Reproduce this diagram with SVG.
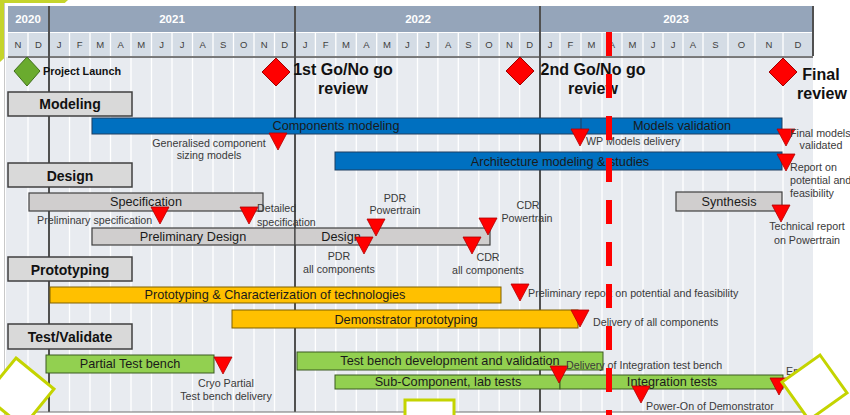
<svg xmlns="http://www.w3.org/2000/svg" xmlns:xlink="http://www.w3.org/1999/xlink" width="850" height="415" viewBox="0 0 850 415">
<defs>
<style>
text{font-family:"Liberation Sans",Arial,sans-serif;}
.yr{fill:#fff;font-weight:bold;font-size:11.5px;text-anchor:middle;}
.mo{fill:#404040;font-size:9.5px;text-anchor:middle;}
.sec rect{fill:#D9D9D9;stroke:#3F3F3F;stroke-width:1.5;}
.sec text{font-weight:bold;font-size:14px;fill:#111;text-anchor:middle;}
.blue{fill:#0070C0;stroke:#1F3F60;stroke-width:1;}
.gray{fill:#D0CECE;stroke:#404040;stroke-width:1.2;}
.yel{fill:#FFC000;stroke:#7F6000;stroke-width:1;}
.grn{fill:#92D050;stroke:#3A5A20;stroke-width:1;}
.bt{font-size:12.7px;fill:#1A1A1A;text-anchor:middle;}
.lb{font-size:10.7px;fill:#3A3A3A;}
.c{text-anchor:middle;}
.big{font-size:16px;font-weight:bold;fill:#111;text-anchor:middle;}
.deco{fill:#fff;stroke:#C4D400;stroke-width:3;}
</style>
<path id="tri" d="M-9,0 L9,0 L0,17 Z" fill="#FF0000" stroke="#B00000" stroke-width="0.8"/>
</defs>

<!-- page background and decor -->
<rect x="0" y="0" width="850" height="415" fill="#fff"/>
<polygon points="0,0 68,0 0,62" fill="#C5D42B"/>
<rect x="4" y="3" width="846" height="412" fill="#fff"/>
<line x1="4.5" y1="3" x2="4.5" y2="415" stroke="#C8C8C8" stroke-width="1"/>

<!-- chart body -->
<g id="grid">
<rect x="6" y="57" width="807" height="355" fill="#E8EBF0"/>
<path d="M28,57V412M69.5,57V412M90,57V412M110.5,57V412M131,57V412M151.5,57V412M172,57V412M192.5,57V412M213,57V412M233.5,57V412M254,57V412M274.5,57V412M315.4,57V412M335.8,57V412M356.3,57V412M376.7,57V412M397.1,57V412M417.5,57V412M437.9,57V412M458.3,57V412M478.8,57V412M499.2,57V412M519.6,57V412M560,57V412M581,57V412M602,57V412M622,57V412M643,57V412M663,57V412M683,57V412M703,57V412M728,57V412M755,57V412M783,57V412" stroke="#FFFFFF" stroke-width="1.3" fill="none"/>
</g>

<!-- header -->
<g id="header">
<rect x="8" y="6" width="805" height="26" fill="#95A5BA"/>
<rect x="8" y="33" width="805" height="23" fill="#D4DCE5"/>
<path d="M28,33V56M69.5,33V56M90,33V56M110.5,33V56M131,33V56M151.5,33V56M172,33V56M192.5,33V56M213,33V56M233.5,33V56M254,33V56M274.5,33V56M315.4,33V56M335.8,33V56M356.3,33V56M376.7,33V56M397.1,33V56M417.5,33V56M437.9,33V56M458.3,33V56M478.8,33V56M499.2,33V56M519.6,33V56M560,33V56M581,33V56M602,33V56M622,33V56M643,33V56M663,33V56M683,33V56M703,33V56M728,33V56M755,33V56M783,33V56" stroke="#FFFFFF" stroke-width="1.3" fill="none"/>
<text class="yr" x="28" y="23">2020</text>
<text class="yr" x="172" y="23">2021</text>
<text class="yr" x="418" y="23">2022</text>
<text class="yr" x="676" y="23">2023</text>
<text class="mo" x="18" y="48">N</text><text class="mo" x="38.5" y="48">D</text>
<text class="mo" x="59.2" y="48">J</text><text class="mo" x="79.7" y="48">F</text><text class="mo" x="100.2" y="48">M</text><text class="mo" x="120.7" y="48">A</text><text class="mo" x="141.2" y="48">M</text><text class="mo" x="161.7" y="48">J</text><text class="mo" x="182.2" y="48">J</text><text class="mo" x="202.7" y="48">A</text><text class="mo" x="223.2" y="48">S</text><text class="mo" x="243.7" y="48">O</text><text class="mo" x="264.2" y="48">N</text><text class="mo" x="284.7" y="48">D</text>
<text class="mo" x="305.2" y="48">J</text><text class="mo" x="325.6" y="48">F</text><text class="mo" x="346" y="48">M</text><text class="mo" x="366.5" y="48">A</text><text class="mo" x="386.9" y="48">M</text><text class="mo" x="407.3" y="48">J</text><text class="mo" x="427.7" y="48">J</text><text class="mo" x="448.1" y="48">A</text><text class="mo" x="468.5" y="48">S</text><text class="mo" x="489" y="48">O</text><text class="mo" x="509.4" y="48">N</text><text class="mo" x="529.8" y="48">D</text>
<text class="mo" x="550" y="48">J</text><text class="mo" x="570.5" y="48">F</text><text class="mo" x="591.5" y="48">M</text><text class="mo" x="612" y="48">A</text><text class="mo" x="632.5" y="48">M</text><text class="mo" x="653" y="48">J</text><text class="mo" x="673" y="48">J</text><text class="mo" x="693" y="48">A</text><text class="mo" x="715.5" y="48">S</text><text class="mo" x="741.5" y="48">O</text><text class="mo" x="769" y="48">N</text><text class="mo" x="798" y="48">D</text>
<path d="M49,6V412M295,6V412M540,6V412M813,6V56" stroke="#505050" stroke-width="2" fill="none"/>
<line x1="8" y1="57" x2="813" y2="57" stroke="#505050" stroke-width="1.5"/>
<line x1="6" y1="412" x2="813" y2="412" stroke="#707070" stroke-width="1.2"/>
</g>

<!-- milestones -->
<g id="project-launch">
<polygon points="27,57 40,71 27,86 14,71" fill="#6AAB2E" stroke="#3F6F1A" stroke-width="1"/>
<text x="43" y="75" font-size="10.8" font-weight="bold" fill="#111">Project Launch</text>
</g>
<g id="gonogo-1">
<polygon points="276,58 290,72 276,86 262,72" fill="#FF0000" stroke="#A00000" stroke-width="1"/>
<text class="big" x="343" y="75">1st Go/No go</text>
<text class="big" x="343" y="94">review</text>
</g>
<g id="gonogo-2">
<polygon points="520,57 534,71 520,85 506,71" fill="#FF0000" stroke="#A00000" stroke-width="1"/>
<text class="big" x="593" y="75">2nd Go/No go</text>
<text class="big" x="593" y="94">review</text>
</g>
<g id="final-review">
<polygon points="783,58 797,72 783,86 769,72" fill="#FF0000" stroke="#A00000" stroke-width="1"/>
<text class="big" x="821" y="80">Final</text>
<text class="big" x="822" y="99">review</text>
</g>

<!-- section headers -->
<g id="sec-modeling" class="sec"><rect x="8" y="92" width="124" height="24"/><text x="70" y="108.5">Modeling</text></g>
<g id="sec-design" class="sec"><rect x="8" y="163" width="124" height="24"/><text x="70" y="180.5">Design</text></g>
<g id="sec-prototyping" class="sec"><rect x="8" y="257" width="124" height="24"/><text x="70" y="275">Prototyping</text></g>
<g id="sec-test" class="sec"><rect x="8" y="324" width="124" height="25"/><text x="70" y="341.5">Test/Validate</text></g>

<!-- Modeling -->
<g id="components-modeling">
<rect class="blue" x="92" y="118" width="690" height="16"/>
<line x1="581" y1="118" x2="581" y2="134" stroke="#1F3F60" stroke-width="1"/>
<text class="bt" x="336" y="130">Components modeling</text>
<text class="bt" x="682" y="130">Models validation</text>
</g>
<g id="ms-generalised">
<use xlink:href="#tri" x="278" y="133"/>
<text class="lb c" x="209" y="147">Generalised component</text>
<text class="lb c" x="209" y="159">sizing models</text>
</g>
<g id="ms-wp-models">
<use xlink:href="#tri" x="580" y="129"/>
<text class="lb" x="586" y="145">WP Models delivery</text>
</g>
<g id="ms-final-models">
<use xlink:href="#tri" x="786" y="129"/>
<text class="lb" x="790" y="137" font-size="10.4">Final models</text>
<text class="lb c" x="821" y="149">validated</text>
</g>
<g id="architecture">
<rect class="blue" x="335" y="152" width="447" height="18"/>
<text class="bt" x="560" y="165.5">Architecture modeling &amp; studies</text>
</g>
<g id="ms-report-potential">
<use xlink:href="#tri" x="786" y="154"/>
<text class="lb" x="790" y="171">Report on</text>
<text class="lb" x="790" y="184">potential and</text>
<text class="lb" x="790" y="197">feasibility</text>
</g>

<!-- Design -->
<g id="specification">
<rect class="gray" x="29" y="193" width="234" height="18"/>
<text class="bt" x="146" y="206">Specification</text>
</g>
<g id="ms-prelim-spec">
<use xlink:href="#tri" x="160" y="207"/>
<text class="lb" x="37" y="224">Preliminary specification</text>
</g>
<g id="ms-detailed-spec">
<use xlink:href="#tri" x="249" y="207"/>
<text class="lb" x="257" y="212">Detailed</text>
<text class="lb" x="257" y="226">specification</text>
</g>
<g id="preliminary-design">
<rect class="gray" x="92" y="228" width="203" height="17"/>
<text class="bt" x="193" y="241">Preliminary Design</text>
</g>
<g id="design">
<rect class="gray" x="295" y="228" width="195" height="17"/>
<text class="bt" x="341" y="241">Design</text>
</g>
<g id="ms-pdr-powertrain">
<use xlink:href="#tri" x="376" y="219"/>
<text class="lb c" x="395" y="202">PDR</text>
<text class="lb c" x="395" y="214">Powertrain</text>
</g>
<g id="ms-pdr-all">
<use xlink:href="#tri" x="364" y="237"/>
<text class="lb c" x="339" y="260">PDR</text>
<text class="lb c" x="339" y="273">all components</text>
</g>
<g id="ms-cdr-powertrain">
<use xlink:href="#tri" x="488" y="218"/>
<text class="lb c" x="528" y="209">CDR</text>
<text class="lb c" x="527" y="222">Powertrain</text>
</g>
<g id="ms-cdr-all">
<use xlink:href="#tri" x="472" y="237"/>
<text class="lb c" x="488" y="261">CDR</text>
<text class="lb c" x="488" y="274">all components</text>
</g>
<g id="synthesis">
<rect class="gray" x="676" y="192" width="106" height="19"/>
<text class="bt" x="729" y="205.5">Synthesis</text>
</g>
<g id="ms-technical-report">
<use xlink:href="#tri" x="781" y="205"/>
<text class="lb c" x="807" y="230">Technical report</text>
<text class="lb c" x="807" y="244">on Powertrain</text>
</g>

<!-- Prototyping -->
<g id="proto-characterization">
<rect class="yel" x="50" y="287" width="451" height="16"/>
<text class="bt" x="275" y="298.5">Prototyping &amp; Characterization of technologies</text>
</g>
<g id="ms-prelim-report">
<use xlink:href="#tri" x="520" y="284"/>
<text class="lb" x="528" y="297">Preliminary report on potential and feasibility</text>
</g>
<g id="demonstrator">
<rect class="yel" x="232" y="310" width="346" height="18"/>
<text class="bt" x="406" y="323.5">Demonstrator prototyping</text>
</g>
<g id="ms-delivery-all">
<use xlink:href="#tri" x="580" y="310"/>
<text class="lb" x="593" y="326">Delivery of all components</text>
</g>

<!-- Test/Validate -->
<g id="partial-test-bench">
<rect class="grn" x="46" y="355" width="168" height="18"/>
<text class="bt" x="130" y="368">Partial Test bench</text>
</g>
<g id="ms-cryo">
<use xlink:href="#tri" x="223" y="357"/>
<text class="lb c" x="226" y="387">Cryo Partial</text>
<text class="lb c" x="226" y="400">Test bench delivery</text>
</g>
<g id="test-bench-dev">
<rect class="grn" x="297" y="352" width="306" height="18"/>
<text class="bt" x="450" y="364.5">Test bench development and validation</text>
</g>
<g id="sub-component">
<rect class="grn" x="335" y="375" width="225" height="14"/>
<text class="bt" x="448" y="386">Sub-Component, lab tests</text>
</g>
<g id="integration-tests">
<rect class="grn" x="560" y="375" width="223" height="14"/>
<text class="bt" x="672" y="386">Integration tests</text>
</g>
<g id="ms-delivery-integration">
<use xlink:href="#tri" x="559" y="366"/>
<text class="lb" x="566" y="369">Delivery of Integration test bench</text>
</g>
<g id="ms-power-on">
<use xlink:href="#tri" x="641" y="386"/>
<text class="lb" x="646" y="410">Power-On of Demonstrator</text>
</g>
<g id="ms-end">
<use xlink:href="#tri" x="779" y="378"/>
<text class="lb" x="786" y="375" font-size="12">En</text>
</g>

<!-- connectors: today marker -->
<g id="connectors">
<line x1="609" y1="32" x2="609" y2="415" stroke="#FF0000" stroke-width="6" stroke-dasharray="24 18"/>
</g>

<!-- slide decorations -->
<g id="decor">
<polygon class="deco" points="16,358 54,389 23,427 -15,396"/>
<rect class="deco" x="405" y="400" width="49" height="20"/>
<polygon class="deco" points="820,355 847,393 809,420 782,382"/>
</g>
</svg>
